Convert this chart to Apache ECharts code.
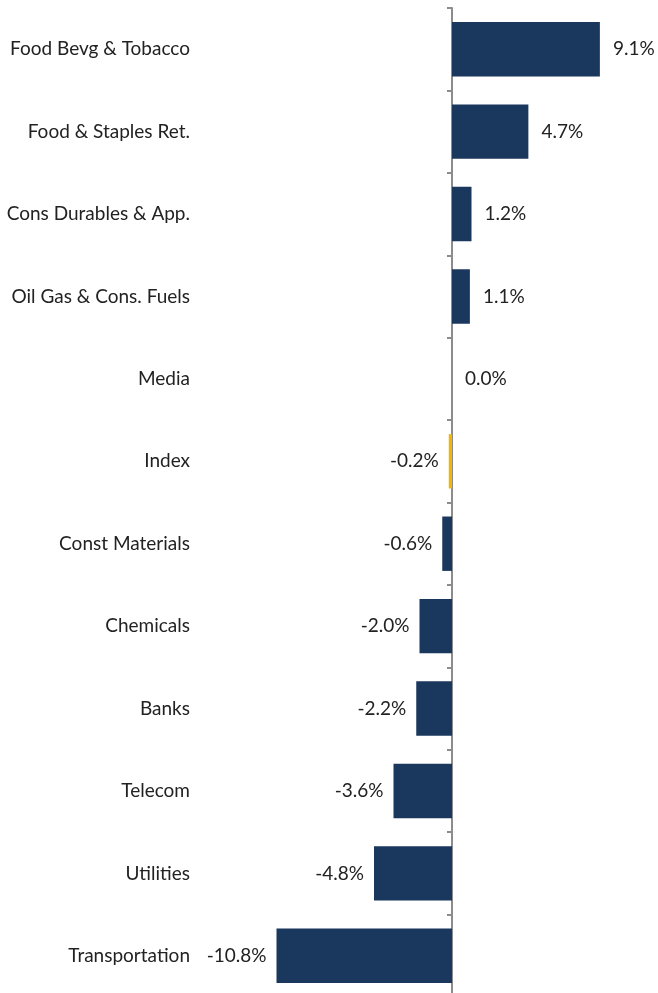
<!DOCTYPE html>
<html><head><meta charset="utf-8">
<script src="https://cdn.jsdelivr.net/npm/echarts@6/dist/echarts.min.js"></script>
<style>html,body{margin:0;padding:0;background:#fff}#c{width:658px;height:993px}</style>
</head><body><div id="c"></div>
<script>
const categories = ["Food Bevg & Tobacco","Food & Staples Ret.","Cons Durables & App.","Oil Gas & Cons. Fuels","Media","Index","Const Materials","Chemicals","Banks","Telecom","Utilities","Transportation"];
const values = [9.1, 4.7, 1.2, 1.1, 0.0, -0.2, -0.6, -2.0, -2.2, -3.6, -4.8, -10.8];
const highlight = "Index";
const NAVY = "#1a375e", GOLD = "#f2b705";
const FONT = "Lato";
const chart = echarts.init(document.getElementById('c'));
chart.setOption({
  animation:false,
  grid:{left:257, right:11, top:8, height:989, containLabel:false, outerBoundsMode:'none'},
  xAxis:{type:'value', min:-12, max:12, show:false},
  yAxis:{type:'category', data:categories, inverse:true,
    axisLine:{lineStyle:{color:'#8c8c8c', width:2}},
    axisTick:{show:true, length:5, inside:false, lineStyle:{color:'#8c8c8c', width:2}},
    axisLabel:{margin:67, color:'#222', fontFamily:FONT, fontSize:19}
  },
  series:[{type:'bar', barCategoryGap:'34%',
    data: values.map((v,i)=>({value:v, itemStyle:{color: categories[i]===highlight?GOLD:NAVY},
      label:{position: v<0?'left':'right', distance: v<0?10:13}})),
    label:{show:true, fontFamily:FONT, fontSize:19, color:'#222',
      formatter:p=>p.value.toFixed(1)+'%'}
  }]
});
</script></body></html>
